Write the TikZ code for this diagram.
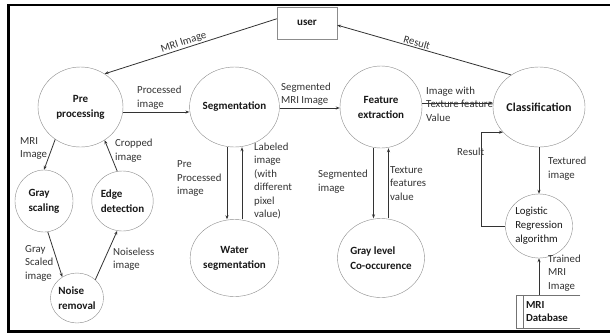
\documentclass[tikz,border=0pt]{standalone}
\usepackage{fontspec}
\setmainfont{Carlito}
\usetikzlibrary{arrows.meta}
\usetikzlibrary{shapes.geometric}

\tikzset{
  proc/.style={ellipse, draw=black!45, inner sep=0pt, text=black!90,
    font=\fontsize{11}{15}\selectfont\bfseries, align=center},
  flow/.style={draw=black!80, line width=0.8pt, -{Stealth[length=4pt,width=3pt]}},
  tag/.style={font=\fontsize{10.8}{13.5}\selectfont, text=black!80, inner sep=1pt},
  lbl/.style={tag, align=left, anchor=west, inner sep=0pt}
}

\begin{document}
\begin{tikzpicture}[x=1pt,y=-1pt]
      \useasboundingbox (0,0) rectangle (610,333);
      \clip (0,0) rectangle (610,333);
      \fill[white] (0,0) rectangle (610,333);
      \draw[line width=2.2pt] (8.5,5) rectangle (640,331.5);

      \node[draw=black!45, minimum width=60pt, minimum height=32pt, text=black!90,
        font=\fontsize{11}{15}\selectfont\bfseries] (user) at (307,23) {user};

      \node[proc, minimum width=85pt, minimum height=80pt] (pre) at (80.5,107) {Pre\\processing};
      \node[proc, minimum width=84pt, minimum height=80pt] (seg) at (234.5,107) {Segmentation};
      \node[proc, minimum width=82pt, minimum height=82pt] (feat) at (381,107) {Feature\\extraction};
      \node[proc, minimum width=86pt, minimum height=80pt,
        font=\fontsize{12}{15}\selectfont\bfseries] (class) at (539,107) {Classification};
      \node[proc, minimum width=58pt, minimum height=62pt, align=left] (gray) at (44,201) {Gray\\scaling};
      \node[proc, minimum width=59pt, minimum height=60pt, align=left] (edge) at (122.5,201) {Edge\\detection};
      \node[proc, minimum width=53pt, minimum height=50pt, align=left] (noise) at (77,298) {Noise\\removal};
      \node[proc, minimum width=70pt, minimum height=77pt] (water) at (234.5,258) {Water\\segmentation};
      \node[proc, minimum width=67pt, minimum height=79pt, align=left] (glcm) at (381,258) {Gray level\\Co-occurence};
      \node[proc, minimum width=62pt, minimum height=64pt, align=left,
        font=\fontsize{10.8}{14}\selectfont] (logi) at (539,226) {Logistic\\Regression\\algorithm};

      \node[minimum width=64pt, minimum height=33pt, text width=44pt, align=left, inner sep=0pt,
        text=black!90, font=\fontsize{10.8}{13}\selectfont\bfseries] (db) at (548,311.5) {MRI\\Database};
      \draw[black!55] (db.north east) -- (db.north west) -- (db.south west) -- (db.south east);
      \draw[black!55] ([xshift=7pt]db.north west) -- ([xshift=7pt]db.south west);

      \draw[flow] (user.172) -- node[tag, above, sloped, pos=0.53] (lmri) {MRI Image} (pre.54);
      \draw[flow] (class.131) -- node[tag, above, sloped, pos=0.55] (lresult) {Result} (user.356);

      \draw[flow] ([yshift=-5pt]pre.east) -- ([yshift=-5pt]seg.west);
      \draw[flow] ([yshift=-1pt]seg.east) -- ([yshift=-1pt]feat.west);
      \draw[flow] ([yshift=4pt]feat.east) -- ([yshift=4pt]class.west);
      \node[lbl] (lprocessed) at (137,97.5) {Processed\\ image};
      \node[lbl] (lsegmri) at (281,94) {Segmented\\MRI Image};
      \node[lbl] (ltexture) at (426,104) {Image with\\Texture feature\\ Value};

      \draw[flow] (pre.232) -- (gray.north);
      \draw[flow] (edge.100) -- (pre.306);
      \draw[flow] (gray.277) -- (noise.125);
      \draw[flow] (noise.45) -- (edge.260);
      \node[lbl] (lmrigray) at (20,148.5) {MRI\\Image};
      \node[lbl] (lcropped) at (115,150.5) {Cropped\\image};
      \node[lbl] (lscaled) at (25,263) {Gray\\Scaled\\image};
      \node[lbl] (lnoiseless) at (113,259) {Noiseless\\image};

      \draw[flow] ([xshift=-7.5pt]seg.south) -- ([xshift=-7.5pt]water.north);
      \draw[flow] ([xshift=7.5pt]water.north) -- ([xshift=7.5pt]seg.south);
      \node[lbl] (lpre) at (177,178.5) {Pre\\Processed\\image};
      \node[lbl] (llabeled) at (254,181) {Labeled\\ image\\(with\\different\\pixel\\value)};

      \draw[flow] ([xshift=-7.5pt]feat.south) -- ([xshift=-7.5pt]glcm.north);
      \draw[flow] ([xshift=7.5pt]glcm.north) -- ([xshift=7.5pt]feat.south);
      \node[lbl] (lsegimg) at (318,181.5) {Segmented\\image};
      \node[lbl] (lfeatval) at (390,183.5) {Texture\\features\\value};

      \draw[flow] (class.south) -- (logi.north);
      \draw[flow] (logi.west) -- ++(-24,0) |- (class.215);
      \draw[flow] (db.north -| logi.south) -- (logi.south);
      \node[lbl] (lresult2) at (457,152) {Result};
      \node[lbl] (ltextured) at (548,168.5) {Textured\\image};
      \node[lbl] (ltrained) at (548,273) {Trained\\MRI\\ Image};

    \end{tikzpicture}
\end{document}
